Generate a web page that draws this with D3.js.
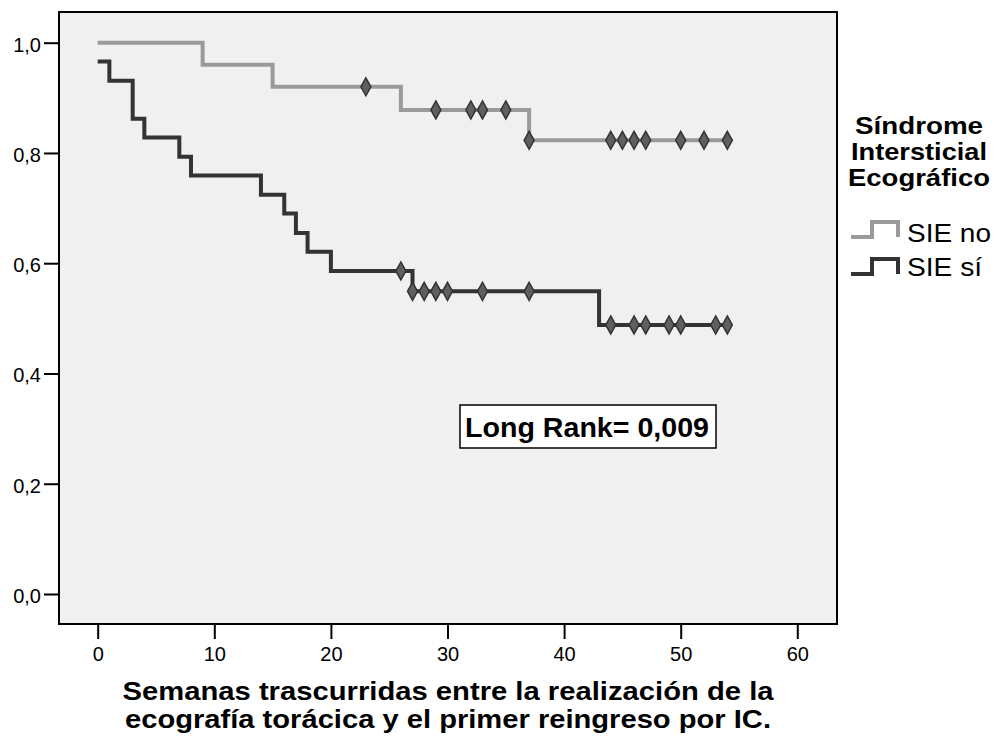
<!DOCTYPE html>
<html><head><meta charset="utf-8">
<script src="https://cdn.jsdelivr.net/npm/d3@7"></script>
<style>body{margin:0;background:#fff}</style>
</head><body>
<svg id="c" width="995" height="738"></svg>
<script>
// ---- data ----
const xTicks = [0, 10, 20, 30, 40, 50, 60];
const yTicks = [0, 0.2, 0.4, 0.6, 0.8, 1.0];
const seriesNames = ["SIE no", "SIE sí"];
const seriesColors = ["#9a9a9a", "#333333"];
// SIE no : step times / survival
const stepTimesNo = [0, 9, 15, 26, 37];
const stepSurvNo  = [1.0, 0.96, 0.92, 0.878, 0.823];
const endTimeNo = 54;
const censorNo = [23, 29, 32, 33, 35, 37, 44, 45, 46, 47, 50, 52, 54];
// SIE sí
const stepTimesSi = [0, 1, 3, 4, 7, 8, 14, 16, 17, 18, 20, 27, 43];
const stepSurvSi  = [0.966, 0.931, 0.862, 0.828, 0.793, 0.759, 0.724, 0.690, 0.655, 0.621, 0.586, 0.549, 0.488];
const endTimeSi = 54;
const censorSi = [26, 27, 28, 29, 30, 33, 37, 44, 46, 47, 49, 50, 53, 54];
const legendTitle = ["Síndrome", "Intersticial", "Ecográfico"];
const xTitle = ["Semanas trascurridas entre la realización de la", "ecografía torácica y el primer reingreso por IC."];
const annotation = "Long Rank= 0,009";

// ---- layout ----
const svg = d3.select("#c");
const frame = {l: 59, t: 12, r: 837, b: 624};
const x = d3.scaleLinear().domain([0, 60]).range([97.7, 797.3]);
const y = d3.scaleLinear().domain([0, 1]).range([594, 42.7]);
const font = "'Liberation Sans', Arial, sans-serif";

svg.append("rect").attr("x", frame.l).attr("y", frame.t)
  .attr("width", frame.r - frame.l).attr("height", frame.b - frame.t)
  .attr("fill", "#f0f0f0").attr("stroke", "#000").attr("stroke-width", 2);

const fmt = d => d3.format(".1f")(d).replace(".", ",");
const xAxis = svg.append("g").attr("transform", `translate(0,${frame.b + 1})`)
  .call(d3.axisBottom(x).tickValues(xTicks).tickSize(14).tickPadding(8).tickFormat(d3.format("d")));
const yAxis = svg.append("g").attr("transform", `translate(${frame.l - 1},0)`)
  .call(d3.axisLeft(y).tickValues(yTicks).tickSize(14).tickPadding(3).tickFormat(fmt));
[xAxis, yAxis].forEach(g => {
  g.select(".domain").remove();
  g.selectAll(".tick line").attr("stroke", "#000").attr("stroke-width", 2);
  g.selectAll(".tick text").attr("fill", "#000").style("font-family", font).style("font-size", "20px");
});
yAxis.selectAll(".tick text").attr("dy", "0.42em");

function stepData(times, surv, end) {
  const pts = times.map((t, i) => [t, surv[i]]);
  pts.push([end, surv[surv.length - 1]]);
  return pts;
}
function survAt(times, surv, t) {
  let v = surv[0];
  times.forEach((tt, i) => { if (tt <= t) v = surv[i]; });
  return v;
}
const line = d3.line().x(d => x(d[0])).y(d => y(d[1])).curve(d3.curveStepAfter);
const series = [
  {times: stepTimesNo, surv: stepSurvNo, end: endTimeNo, cens: censorNo, color: seriesColors[0]},
  {times: stepTimesSi, surv: stepSurvSi, end: endTimeSi, cens: censorSi, color: seriesColors[1]}
];
const diamond = "M0,-9 L5,0 L0,9 L-5,0 Z";
series.forEach(s => {
  svg.append("path").datum(stepData(s.times, s.surv, s.end))
    .attr("d", line).attr("fill", "none").attr("stroke", s.color)
    .attr("stroke-width", 4).attr("stroke-linejoin", "miter").attr("stroke-linecap", "butt");
  svg.append("g").selectAll("path").data(s.cens).join("path")
    .attr("d", diamond)
    .attr("transform", d => `translate(${x(d)},${y(survAt(s.times, s.surv, d))})`)
    .attr("fill", "#5f5f5f").attr("stroke", "#333").attr("stroke-width", 1.5);
});

// annotation box
svg.append("rect").attr("x", 460).attr("y", 405).attr("width", 256).attr("height", 43)
  .attr("fill", "#fff").attr("stroke", "#000").attr("stroke-width", 1.5);
svg.append("text").attr("x", 587).attr("y", 437).attr("text-anchor", "middle")
  .attr("textLength", 244).attr("lengthAdjust", "spacingAndGlyphs")
  .style("font-family", font).style("font-size", "28px").style("font-weight", "bold")
  .text(annotation);

// x title
const xTitleLen = [651, 646];
svg.append("g").selectAll("text").data(xTitle).join("text")
  .attr("x", 448).attr("y", (d, i) => 700 + i * 28.3).attr("text-anchor", "middle")
  .attr("textLength", (d, i) => xTitleLen[i]).attr("lengthAdjust", "spacingAndGlyphs")
  .style("font-family", font).style("font-size", "26px").style("font-weight", "bold")
  .text(d => d);

// legend
const legLen = [128, 136, 142];
svg.append("g").selectAll("text").data(legendTitle).join("text")
  .attr("x", 919).attr("y", (d, i) => 134 + i * 26).attr("text-anchor", "middle")
  .attr("textLength", (d, i) => legLen[i]).attr("lengthAdjust", "spacingAndGlyphs")
  .style("font-family", font).style("font-size", "24px").style("font-weight", "bold")
  .text(d => d);
const itemLen = [84, 75];
seriesNames.forEach((n, i) => {
  const yb = 237 + i * 37;
  svg.append("path").attr("d", `M851,${yb} H872 V${yb - 15} H898 V${yb}`)
    .attr("fill", "none").attr("stroke", seriesColors[i]).attr("stroke-width", 4);
  svg.append("text").attr("x", 907).attr("y", 242 + i * 33.5)
    .attr("textLength", itemLen[i]).attr("lengthAdjust", "spacingAndGlyphs")
    .style("font-family", font).style("font-size", "25px").text(n);
});
</script>
</body></html>
